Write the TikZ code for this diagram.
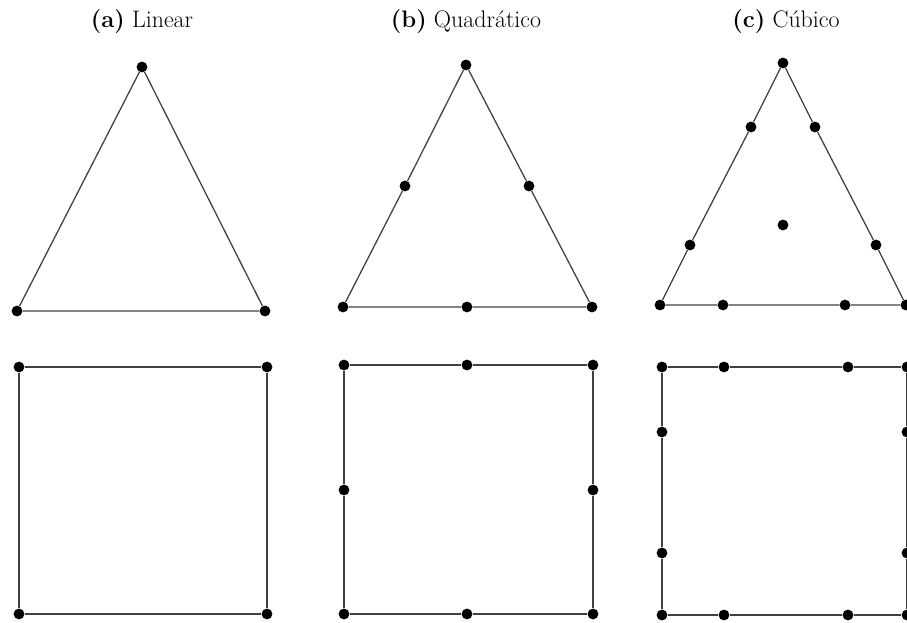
\documentclass[tikz,border=0pt]{standalone}
\usepackage{fontspec}

\begin{document}
\begin{tikzpicture}[
    x=0.025cm, y=-0.025cm,
    title/.style={
        font=\fontsize{17}{20}\selectfont,
        inner sep=0pt
    },
    dot/.style={
        circle,
        fill=black,
        inner sep=0pt,
        minimum size=0.27cm
    },
    edge/.style={
        draw=black!75,
        line width=0.9pt
    }
]

\clip (0,0) rectangle (907,623);

% titles
\node[title] (ta) at (142,22) {\textbf{(a)} Linear};
\node[title] (tb) at (466,22) {\textbf{(b)} Quadrático};
\node[title] (tc) at (786,22) {\textbf{(c)} Cúbico};

% (a) linear triangle
\node[dot] (a1) at (142,67) {};
\node[dot] (a2) at (17,311) {};
\node[dot] (a3) at (265,311) {};
\draw[edge] (a1) -- (a2) -- (a3) -- (a1);

% (a) linear square
\node[dot] (as1) at (19,367) {};
\node[dot] (as2) at (267,367) {};
\node[dot] (as3) at (267,614) {};
\node[dot] (as4) at (19,614) {};
\draw[edge] (as1) -- (as2) -- (as3) -- (as4) -- (as1);

% (b) quadratic triangle
\node[dot] (b1) at (466,65) {};
\node[dot] (b2) at (343,307) {};
\node[dot] (b3) at (592,307) {};
\node[dot] (b12) at (405,186) {};
\node[dot] (b23) at (467,307) {};
\node[dot] (b31) at (529,186) {};
\draw[edge] (b1) -- (b12) -- (b2) -- (b23) -- (b3) -- (b31) -- (b1);

% (b) quadratic square
\node[dot] (bs1) at (344,365) {};
\node[dot] (bs2) at (593,365) {};
\node[dot] (bs3) at (593,614) {};
\node[dot] (bs4) at (344,614) {};
\node[dot] (bs12) at (467,365) {};
\node[dot] (bs23) at (593,490) {};
\node[dot] (bs34) at (467,614) {};
\node[dot] (bs41) at (344,490) {};
\draw[edge] (bs1) -- (bs12) -- (bs2) -- (bs23) -- (bs3) -- (bs34) -- (bs4) -- (bs41) -- (bs1);

% (c) cubic triangle
\node[dot] (c1) at (783,63) {};
\node[dot] (c2) at (660,305) {};
\node[dot] (c3) at (906,305) {};
\node[dot] (c12a) at (751,127) {};
\node[dot] (c12b) at (690,245) {};
\node[dot] (c23a) at (723,305) {};
\node[dot] (c23b) at (845,305) {};
\node[dot] (c31a) at (876,245) {};
\node[dot] (c31b) at (815,127) {};
\node[dot] (cm) at (783,225) {};
\draw[edge] (c1) -- (c12a) -- (c12b) -- (c2) -- (c23a) -- (c23b) -- (c3)
    -- (c31a) -- (c31b) -- (c1);

% (c) cubic square
\node[dot] (cs1) at (662,367) {};
\node[dot] (cs2) at (907,367) {};
\node[dot] (cs3) at (907,615) {};
\node[dot] (cs4) at (662,615) {};
\node[dot] (cs12a) at (724,367) {};
\node[dot] (cs12b) at (848,367) {};
\node[dot] (cs23a) at (907,432) {};
\node[dot] (cs23b) at (907,553) {};
\node[dot] (cs34a) at (848,615) {};
\node[dot] (cs34b) at (724,615) {};
\node[dot] (cs41a) at (662,553) {};
\node[dot] (cs41b) at (662,432) {};
\draw[edge] (cs1) -- (cs12a) -- (cs12b) -- (cs2) -- (cs23a) -- (cs23b) -- (cs3)
    -- (cs34a) -- (cs34b) -- (cs4) -- (cs41a) -- (cs41b) -- (cs1);

\end{tikzpicture}
\end{document}
